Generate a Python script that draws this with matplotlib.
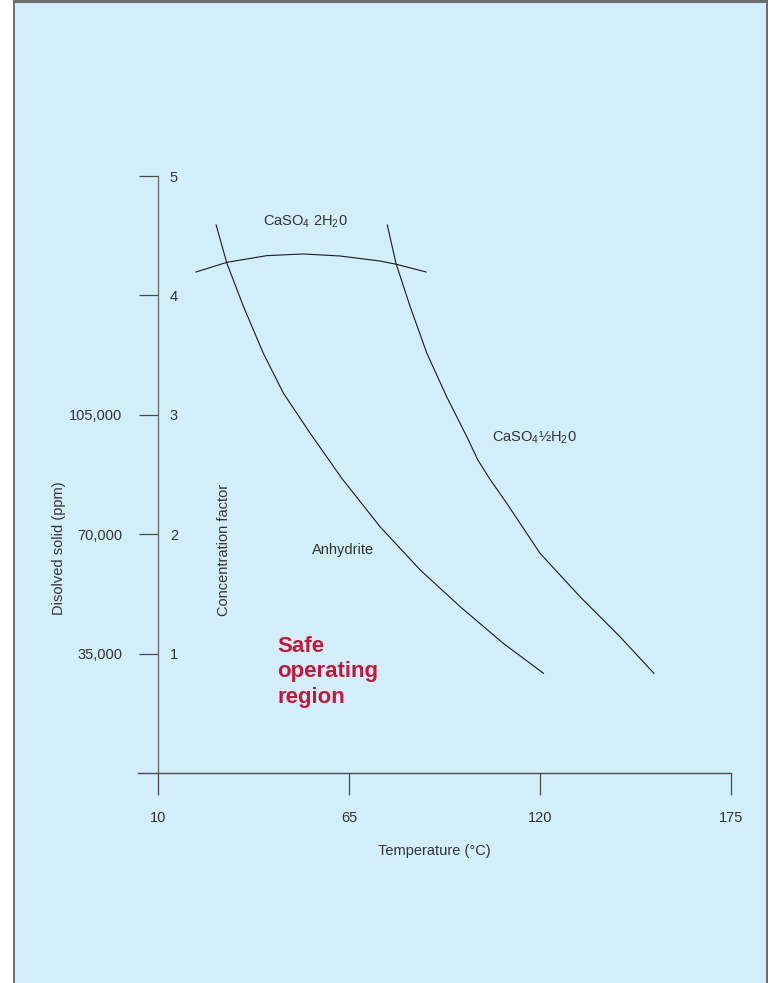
import numpy as np
import matplotlib.pyplot as plt
from matplotlib.patches import Rectangle

plt.rcParams['font.family'] = ['Liberation Sans', 'DejaVu Sans']
plt.rcParams['mathtext.fontset'] = 'custom'
plt.rcParams['mathtext.rm'] = 'Liberation Sans'
plt.rcParams['mathtext.it'] = 'Liberation Sans'

# data: temperature (C) vs concentration factor
gyp_t = [20.9, 29.8, 41.3, 51.8, 62.4, 73.9, 78.7, 87.2]
gyp_cf = [4.196, 4.277, 4.333, 4.347, 4.330, 4.288, 4.260, 4.196]

anh_t = [26.7, 29.8, 34.6, 40.3, 46.1, 53.8, 62.9, 73.9, 85.5, 97.0, 109.4, 121.0]
anh_cf = [4.590, 4.269, 3.905, 3.515, 3.180, 2.845, 2.468, 2.063, 1.700, 1.393, 1.086, 0.835]

hemi_t = [76.0, 78.5, 82.6, 87.4, 93.1, 98.9, 102.1, 105.4, 110.4, 120.0, 131.5, 143.0, 152.8]
hemi_cf = [4.590, 4.269, 3.905, 3.515, 3.152, 2.817, 2.621, 2.468, 2.259, 1.840, 1.477, 1.142, 0.835]

temp_ticks = [10, 65, 120, 175]
cf_ticks = [1, 2, 3, 4, 5]
ppm_ticks = [35000, 70000, 105000]
ppm_per_cf = 35000

W, H = 771, 983
fig = plt.figure(figsize=(W / 100, H / 100), dpi=100)
fig.patch.set_facecolor('white')

# framed light blue panel
fig.patches.append(Rectangle((13 / W, 0), 755 / W, 1, transform=fig.transFigure,
                             facecolor='#6d6e71', edgecolor='none', zorder=-10))
fig.patches.append(Rectangle((15 / W, 0), 751 / W, (H - 3) / H, transform=fig.transFigure,
                             facecolor='#d2eef9', edgecolor='none', zorder=-9))

ax = fig.add_axes([138 / W, 210 / H, 593 / W, 597 / H])
ax.set_zorder(5)
ax.set_facecolor('none')
ax.set_xlim(4.2, 175)
ax.set_ylim(0, 5)

line_kw = dict(color='#1a1a1a', lw=0.8)
ax.plot(gyp_t, gyp_cf, **line_kw)
ax.plot(anh_t, anh_cf, **line_kw)
ax.plot(hemi_t, hemi_cf, **line_kw)

axis_col = '#4a4a4a'
txt_col = '#333333'
ax.spines['top'].set_visible(False)
ax.spines['left'].set_position(('data', 10))
ax.spines['right'].set_position(('data', 10))
ax.spines['right'].set_visible(False)
ax.spines['left'].set_color('#6d6e71')
ax.spines['bottom'].set_color(axis_col)
ax.spines['left'].set_linewidth(1.0)
ax.spines['bottom'].set_linewidth(1.0)

ax.set_xticks(temp_ticks)
ax.tick_params(axis='x', direction='out', length=16, width=0.9, color=axis_col,
               pad=11, labelsize=10.5, labelcolor=txt_col)
ax.set_yticks(cf_ticks)
ax.tick_params(axis='y', which='major', left=True, right=False, labelleft=False,
               labelright=True, direction='out', length=13.5, width=0.9,
               color=axis_col, pad=-5, labelsize=10.5, labelcolor=txt_col)
ax.set_xlabel('Temperature (°C)', fontsize=10.5, color=txt_col, labelpad=14)

ax.yaxis.set_label_position('right')
ax.set_ylabel('Concentration factor', fontsize=10.5, color=txt_col)
ax.yaxis.set_label_coords(217 / W, 1 - 550 / H, transform=fig.transFigure)

# dissolved solids scale on the same axis line
loc = (10 - 4.2) / (175 - 4.2)
ax2 = ax.secondary_yaxis(loc, functions=(lambda c: c * ppm_per_cf, lambda p: p / ppm_per_cf))
ax2.spines['left'].set_visible(False)
ax2.set_yticks(ppm_ticks)
ax2.set_yticklabels([f'{v:,}' for v in ppm_ticks])
ax2.tick_params(axis='y', length=0, pad=26, labelsize=10.5, labelcolor=txt_col)
ax2.set_ylabel('Disolved solid (ppm)', fontsize=10.5, color=txt_col)
ax2.yaxis.set_label_coords(66 / W, 1 - 548 / H, transform=fig.transFigure)

# region labels
ax.text(52.5, 4.62, 'CaSO$_4$ 2H$_2$0', fontsize=10.5, color=txt_col, ha='center', va='center')
ax.text(118.5, 2.81, 'CaSO$_4$½H$_2$0', fontsize=10.5, color=txt_col, ha='center', va='center')
ax.text(63.2, 1.87, 'Anhydrite', fontsize=10.5, color=txt_col, ha='center', va='center')
ax.text(44.3, 0.846, 'Safe\noperating\nregion', fontsize=16, fontweight='bold',
        color='#c4173b', ha='left', va='center', linespacing=1.3)

fig.savefig('out.png', dpi=100, facecolor=fig.get_facecolor())
